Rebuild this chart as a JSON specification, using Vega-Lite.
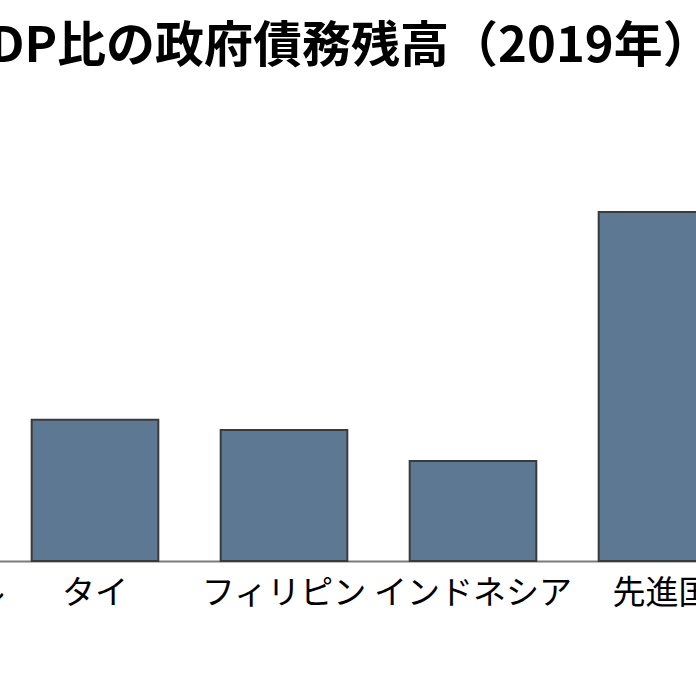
{
  "$schema": "https://vega.github.io/schema/vega-lite/v6.json",
  "autosize": "none",
  "width": 696,
  "height": 471,
  "padding": {"top": 90, "left": 0, "right": 0, "bottom": 135},
  "background": "white",
  "title": {
    "text": "GDP比の政府債務残高（2019年）",
    "font": "Noto Sans CJK JP",
    "fontSize": 49,
    "fontWeight": "bold",
    "color": "#000000",
    "anchor": "middle",
    "dx": -15,
    "offset": 18
  },
  "data": {
    "values": [
      {"region": "シンガポール", "debt": 129},
      {"region": "タイ", "debt": 41.5},
      {"region": "フィリピン", "debt": 38.5},
      {"region": "インドネシア", "debt": 29.4},
      {"region": "先進国", "debt": 102.6}
    ]
  },
  "mark": {"type": "bar", "color": "#5d7893", "stroke": "#3a3a3a", "strokeWidth": 2},
  "encoding": {
    "x": {
      "field": "region",
      "type": "nominal",
      "sort": null,
      "scale": {"range": [-188.5, 756.5], "paddingInner": 0.33, "paddingOuter": 0.165},
      "axis": {
        "title": null,
        "ticks": false,
        "domainColor": "#7a7a7a",
        "domainWidth": 2,
        "labelAngle": 0,
        "labelFont": "Noto Sans CJK JP",
        "labelFontSize": 33,
        "labelColor": "#000000",
        "labelPadding": 16,
        "labelLimit": 0,
        "labelOverlap": false,
        "labelBound": false
      }
    },
    "y": {
      "field": "debt",
      "type": "quantitative",
      "scale": {"domain": [0, 138.5], "nice": false},
      "axis": null
    }
  },
  "config": {"view": {"stroke": null}}
}
